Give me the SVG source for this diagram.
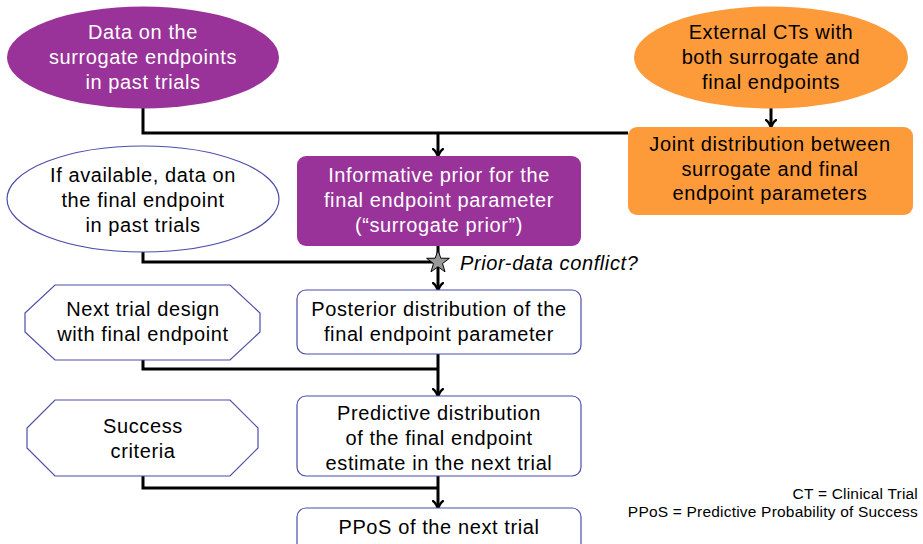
<svg xmlns="http://www.w3.org/2000/svg" width="923" height="544" viewBox="0 0 923 544">
<style>
.t{font-family:"Liberation Sans",Arial,sans-serif;font-size:20px;letter-spacing:0.6px;text-anchor:middle;fill:#000}
.w{fill:#fff}
.purple{fill:#993399;stroke:none}
.orange{fill:#fd9a3a;stroke:none}
.blue{fill:#fff;stroke:#4d4dab;stroke-width:1.2}
.conn{fill:none;stroke:#000;stroke-width:3}
.leg{font-family:"Liberation Sans",Arial,sans-serif;font-size:15.5px;letter-spacing:0.2px;text-anchor:end;fill:#000}
</style>
<defs>
<marker id="ah" markerWidth="12" markerHeight="12" refX="6" refY="6" orient="auto" markerUnits="userSpaceOnUse">
<path d="M1,1 Q4,5 10,6 Q4,7 1,11" fill="none" stroke="#000" stroke-width="2.2" stroke-linecap="round"/>
</marker>
</defs>
<g id="connectors">
<path class="conn" d="M143,108 V133 H628"/>
<path class="conn" d="M438,133 V154" marker-end="url(#ah)"/>
<path class="conn" d="M771,108 V125" marker-end="url(#ah)"/>
<path class="conn" d="M438,246 V262"/>
<path class="conn" d="M143,252 V262 H438"/>
<path class="conn" d="M438,262 V288" marker-end="url(#ah)"/>
<path class="conn" d="M143,360 V369 H438"/>
<path class="conn" d="M438,354 V394" marker-end="url(#ah)"/>
<path class="conn" d="M143,476 V488 H438"/>
<path class="conn" d="M438,476 V506" marker-end="url(#ah)"/>
<polygon id="star" points="438,250 440.8,258.2 449.4,258.3 442.5,263.5 445,271.8 438,266.8 431,271.8 433.5,263.5 426.6,258.3 435.2,258.2" fill="#999" stroke="#000" stroke-width="1"/>
<text x="460" y="270" font-family="Liberation Sans,Arial,sans-serif" font-size="20" letter-spacing="0.6" font-style="italic">Prior-data conflict?</text>
</g>
<g id="surrogate-data">
<ellipse class="purple" cx="143" cy="57.5" rx="136" ry="51"/>
<text class="t w" x="143" y="39">Data on the</text>
<text class="t w" x="143" y="64">surrogate endpoints</text>
<text class="t w" x="143" y="89">in past trials</text>
</g>
<g id="external-cts">
<ellipse class="orange" cx="771" cy="57.5" rx="137" ry="51"/>
<text class="t" x="771" y="39">External CTs with</text>
<text class="t" x="771" y="64">both surrogate and</text>
<text class="t" x="771" y="89">final endpoints</text>
</g>
<g id="joint-distribution">
<rect class="orange" x="628" y="127" width="285" height="88" rx="9"/>
<text class="t" x="770" y="151">Joint distribution between</text>
<text class="t" x="770" y="176">surrogate and final</text>
<text class="t" x="770" y="200">endpoint parameters</text>
</g>
<g id="surrogate-prior">
<rect class="purple" x="297" y="156" width="284" height="90" rx="9"/>
<text class="t w" x="439" y="182">Informative prior for the</text>
<text class="t w" x="439" y="207">final endpoint parameter</text>
<text class="t w" x="439" y="232">(“surrogate prior”)</text>
</g>
<g id="final-data">
<ellipse class="blue" cx="143" cy="199" rx="136" ry="53"/>
<text class="t" x="143" y="182">If available, data on</text>
<text class="t" x="143" y="207">the final endpoint</text>
<text class="t" x="143" y="232">in past trials</text>
</g>
<g id="posterior">
<rect class="blue" x="297" y="290" width="284" height="64" rx="9"/>
<text class="t" x="439" y="316">Posterior distribution of the</text>
<text class="t" x="439" y="341">final endpoint parameter</text>
</g>
<g id="next-trial-design">
<polygon class="blue" points="55,285 230,285 260,313 260,332 230,360 55,360 25,332 25,313"/>
<text class="t" x="143" y="316">Next trial design</text>
<text class="t" x="143" y="341">with final endpoint</text>
</g>
<g id="predictive">
<rect class="blue" x="297" y="396" width="284" height="80" rx="9"/>
<text class="t" x="439" y="420">Predictive distribution</text>
<text class="t" x="439" y="445">of the final endpoint</text>
<text class="t" x="439" y="470">estimate in the next trial</text>
</g>
<g id="success-criteria">
<polygon class="blue" points="55,400 230,400 258,428 258,448 230,476 55,476 27,448 27,428"/>
<text class="t" x="143" y="433">Success</text>
<text class="t" x="143" y="458">criteria</text>
</g>
<g id="ppos">
<rect class="blue" x="297" y="508" width="284" height="50" rx="9"/>
<text class="t" x="439" y="534">PPoS of the next trial</text>
</g>
<g id="legend">
<text class="leg" x="918" y="499">CT = Clinical Trial</text>
<text class="leg" x="918" y="517">PPoS = Predictive Probability of Success</text>
</g>
</svg>
